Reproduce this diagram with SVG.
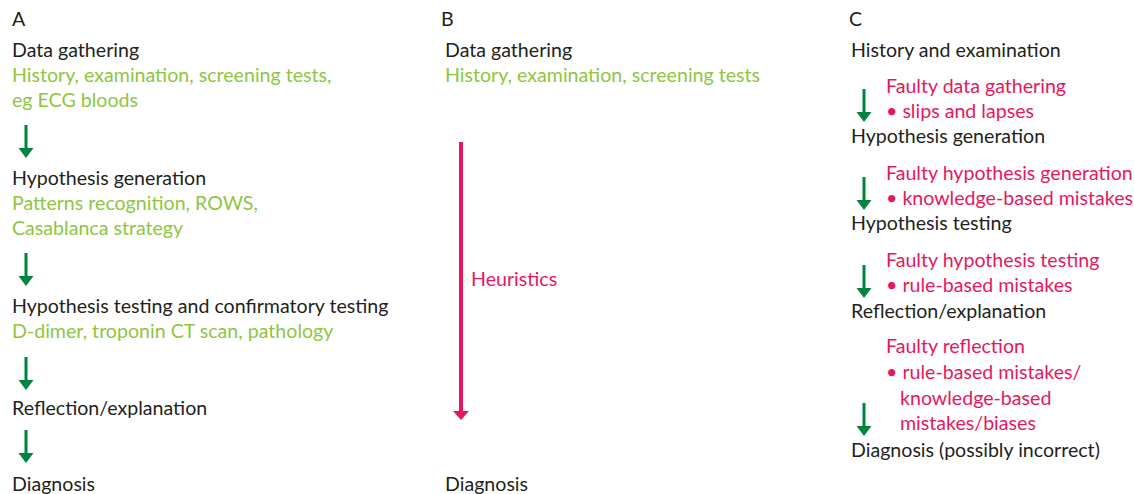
<svg xmlns="http://www.w3.org/2000/svg" width="1134" height="494" viewBox="0 0 1134 494">
<style>
text{font-family:Lato,"Liberation Sans",sans-serif;font-size:19.6px}
.k{fill:#231f20}
.g{fill:#8dc63f}
.p{fill:#e8175d}
.ga{fill:#00843d}
</style>
<defs>
<g id="garrow"><rect x="-1.5" y="0" width="3" height="25" class="ga"/><polygon points="-7.5,23 7.5,23 0,33" class="ga"/></g>
</defs>
<rect width="1134" height="494" fill="#fff"/>
<g id="panelA">
<text x="12" y="26" class="k">A</text>
<g id="a-data"><text x="12" y="57" class="k">Data gathering</text><text x="12" y="82" class="g">History, examination, screening tests,</text><text x="12" y="107" class="g">eg ECG bloods</text></g>
<g id="a-hyp"><text x="12" y="185" class="k">Hypothesis generation</text><text x="12" y="210" class="g">Patterns recognition, ROWS,</text><text x="12" y="235" class="g">Casablanca strategy</text></g>
<g id="a-test"><text x="12" y="313" class="k">Hypothesis testing and confirmatory testing</text><text x="12" y="338" class="g">D-dimer, troponin CT scan, pathology</text></g>
<g id="a-refl"><text x="12" y="415" class="k">Reflection/explanation</text></g>
<g id="a-diag"><text x="12" y="491" class="k">Diagnosis</text></g>
</g>
<g id="panelB">
<text x="441" y="26" class="k">B</text>
<g id="b-data"><text x="445" y="57" class="k">Data gathering</text><text x="445" y="82" class="g">History, examination, screening tests</text></g>
<g id="b-diag"><text x="445" y="491" class="k">Diagnosis</text></g>
</g>
<g id="panelC">
<text x="849" y="26" class="k">C</text>
<g id="c-hist"><text x="851" y="57" class="k">History and examination</text></g>
<g id="c-hyp"><text x="851" y="143" class="k">Hypothesis generation</text></g>
<g id="c-test"><text x="851" y="230" class="k">Hypothesis testing</text></g>
<g id="c-refl"><text x="851" y="318" class="k">Reflection/explanation</text></g>
<g id="c-diag"><text x="851" y="457" class="k">Diagnosis (possibly incorrect)</text></g>
</g>
<g id="connectors">
<use href="#garrow" x="26" y="125"/>
<use href="#garrow" x="26" y="253"/>
<use href="#garrow" x="26" y="357"/>
<use href="#garrow" x="26" y="430"/>
<rect x="459" y="142" width="4" height="272" class="p"/>
<polygon points="453,411 469,411 461,420" class="p"/>
<text x="471" y="286" class="p">Heuristics</text>
<use href="#garrow" x="864" y="89"/>
<use href="#garrow" x="864" y="177"/>
<use href="#garrow" x="864" y="265"/>
<use href="#garrow" x="864" y="403"/>
<g class="p">
<text x="886" y="93" class="p">Faulty data gathering</text>
<text x="886" y="118" class="p">• slips and lapses</text>
<text x="886" y="180" class="p">Faulty hypothesis generation</text>
<text x="886" y="205" class="p">• knowledge-based mistakes</text>
<text x="886" y="267" class="p">Faulty hypothesis testing</text>
<text x="886" y="292" class="p">• rule-based mistakes</text>
<text x="886" y="353" class="p">Faulty reflection</text>
<text x="886" y="379" class="p">• rule-based mistakes/</text>
<text x="900" y="405" class="p">knowledge-based</text>
<text x="900" y="430" class="p">mistakes/biases</text>
</g>
</g>
</svg>
